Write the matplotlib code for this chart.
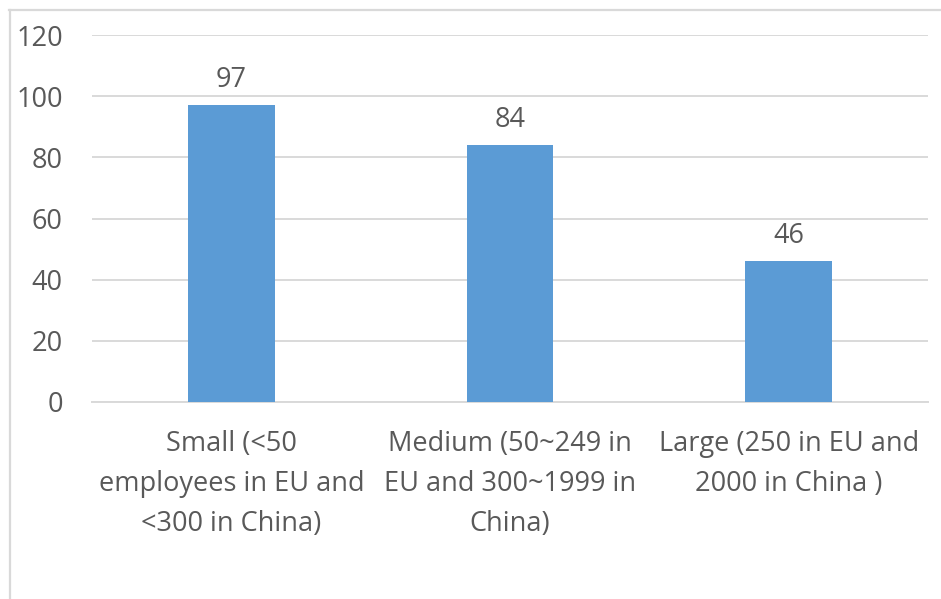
import matplotlib
matplotlib.use("Agg")
import matplotlib.pyplot as plt
from matplotlib.lines import Line2D

categories = ["Small (<50\nemployees in EU and\n<300 in China)",
              "Medium (50~249 in\nEU and 300~1999 in\nChina)",
              "Large (250 in EU and\n2000 in China )"]
values = [97, 84, 46]
yticks = [0, 20, 40, 60, 80, 100, 120]

plt.rcParams['font.family'] = ['Open Sans', 'DejaVu Sans']
text_color = '#595959'
grid_color = '#D9D9D9'
bar_color = '#5B9BD5'

W, H = 941, 599
fig = plt.figure(figsize=(W/100, H/100), dpi=100)
ax = fig.add_axes([92/W, 1-402/H, (928-92)/W, (402-35)/H])

x = list(range(len(values)))
bars = ax.bar(x, values, width=0.31, color=bar_color, zorder=3)
ax.set_xlim(-0.5, len(values)-0.5)
ax.set_ylim(0, 120)
ax.set_yticks(yticks)
ax.set_yticklabels([str(t) for t in yticks])
ax.set_xticks(x)
ax.set_xticklabels(categories, linespacing=1.55)
ax.tick_params(axis='y', length=0, pad=21, labelsize=19.5, labelcolor=text_color)
ax.tick_params(axis='x', length=0, pad=20.5, labelsize=19.5, labelcolor=text_color)
ax.grid(axis='y', color=grid_color, linewidth=1.4, zorder=0)
for s in ['top', 'right', 'left']:
    ax.spines[s].set_visible(False)
ax.spines['bottom'].set_color(grid_color)
ax.spines['bottom'].set_linewidth(1.4)

for xi, v in zip(x, values):
    ax.annotate(str(v), (xi, v), xytext=(0, 8), textcoords='offset points',
                ha='center', va='bottom', fontsize=19.5, color=text_color)

# chart frame (only top and left edges visible)
fig.add_artist(Line2D([9.5/W, 9.5/W], [0, 1-10/H], color=grid_color, lw=1.6, transform=fig.transFigure))
fig.add_artist(Line2D([9/W, 1], [1-10/H, 1-10/H], color=grid_color, lw=1.6, transform=fig.transFigure))

fig.savefig("out.png", dpi=100, facecolor='white')
